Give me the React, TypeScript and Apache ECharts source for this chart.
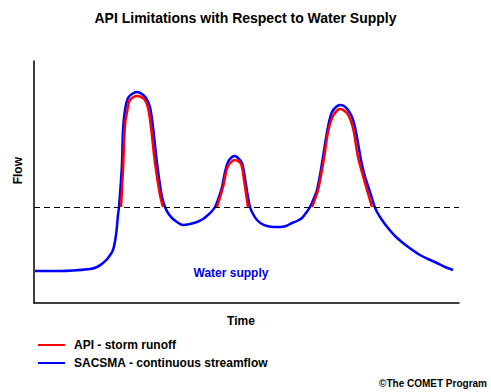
import React, { useEffect, useRef } from "react";
import * as echarts from "echarts";

// Time (0..425) vs Flow (0..242)
const sacsma: [number, number][] = [
  [1, 32], [26, 32], [56, 34], [63, 36], [69, 40], [74, 45], [79, 53], [82, 68], [84, 88], [85, 96],
  [87, 123], [88, 140], [89, 173], [91, 193], [94, 205], [98, 209], [103, 211], [108, 209], [112, 205],
  [116, 196], [119, 176], [121, 158], [123, 140], [126, 118], [128, 106], [131, 96], [134, 90], [138, 85],
  [143, 81], [149, 78], [156, 79], [163, 81], [169, 84], [174, 88], [178, 92], [181, 96], [185, 106],
  [188, 116], [191, 131], [194, 141], [198, 146], [201, 147], [204, 145], [208, 140], [210, 131],
  [212, 118], [214, 106], [216, 96], [219, 89], [223, 83], [228, 79], [233, 77], [240, 76], [246, 76],
  [252, 77], [258, 80], [263, 82], [268, 85], [272, 90], [276, 96], [280, 105], [283, 113], [286, 128],
  [289, 146], [292, 165], [295, 181], [298, 191], [302, 196], [306, 198], [310, 197], [314, 193],
  [318, 186], [321, 176], [324, 160], [327, 143], [330, 130], [333, 120], [337, 108], [340, 98],
  [343, 91], [348, 83], [354, 75], [361, 67], [369, 60], [377, 54], [386, 48], [394, 44], [403, 40],
  [411, 36], [419, 33],
];
const apiPeak1: [number, number][] = [
  [87, 96], [89, 133], [91, 178], [93, 191], [96, 203], [103, 207], [110, 204], [114, 195], [117, 176],
  [121, 140], [126, 108], [129, 96],
];
const apiPeak2: [number, number][] = [
  [183, 96], [189, 116], [194, 137], [201, 143], [207, 139], [210, 123], [214, 96],
];
const apiPeak3: [number, number][] = [
  [278, 96], [284, 113], [290, 145], [294, 171], [299, 187], [306, 194], [313, 190], [319, 175],
  [324, 146], [331, 120], [338, 96],
];
const waterSupplyLevel = 96;

const seriesNames = ["API - storm runoff", "SACSMA - continuous streamflow"];

export default function App() {
  const ref = useRef<HTMLDivElement>(null);
  useEffect(() => {
    if (!ref.current) return;
    const chart = echarts.init(ref.current, null, { renderer: "svg" });
    const font = "'Liberation Sans', Arial, sans-serif";
    const apiData: (number[] | string)[] = [...apiPeak1, "-", ...apiPeak2, "-", ...apiPeak3] as any;
    chart.setOption({
      animation: false,
      backgroundColor: "#fff",
      title: {
        text: "API Limitations with Respect to Water Supply",
        left: "center",
        top: 6,
        textStyle: { fontSize: 14, fontWeight: "bold", color: "#000", fontFamily: font },
      },
      grid: { left: 34, right: 32, top: 61, bottom: 89 },
      xAxis: {
        type: "value", min: 0, max: 425,
        axisLine: { lineStyle: { color: "#000", width: 1.5 } },
        axisTick: { show: false }, axisLabel: { show: false }, splitLine: { show: false },
      },
      yAxis: {
        type: "value", min: 0, max: 242,
        axisLine: { show: true, lineStyle: { color: "#000", width: 1.5 } },
        axisTick: { show: false }, axisLabel: { show: false }, splitLine: { show: false },
      },
      legend: {
        orient: "vertical", left: 38, top: 339, itemWidth: 27, itemHeight: 2, icon: "rect", itemGap: 6,
        padding: 0,
        data: seriesNames,
        textStyle: { fontSize: 12, fontWeight: "bold", color: "#000", fontFamily: font, padding: [0, 0, 0, 4] },
      },
      series: [
        {
          name: seriesNames[1], type: "line", data: sacsma, smooth: 0.3, showSymbol: false,
          lineStyle: { color: "#0000ff", width: 2.5 }, itemStyle: { color: "#0000ff" }, z: 2,
          markLine: {
            silent: true, symbol: "none", label: { show: false },
            lineStyle: { color: "#000", type: [6, 4], width: 1 },
            data: [{ yAxis: waterSupplyLevel }],
          },
        },
        {
          name: seriesNames[0], type: "line", data: apiData, smooth: 0.3, showSymbol: false,
          connectNulls: false,
          lineStyle: { color: "#ff0000", width: 2.5 }, itemStyle: { color: "#ff0000" }, z: 3,
        },
      ],
      graphic: [
        { type: "text", left: 12, top: 157, rotation: Math.PI / 2,
          style: { text: "Flow", fontSize: 12, fontWeight: "bold", fill: "#000", fontFamily: font } },
        { type: "text", x: 241, y: 321,
          style: { text: "Time", fontSize: 12, fontWeight: "bold", fill: "#000", fontFamily: font, align: "center", verticalAlign: "middle" } },
        { type: "text", x: 231, y: 273,
          style: { text: "Water supply", fontSize: 12, fontWeight: "bold", fill: "#0000ee", fontFamily: font, align: "center", verticalAlign: "middle" } },
        { type: "text", x: 487, y: 383,
          style: { text: "©The COMET Program", fontSize: 10, fontWeight: "bold", fill: "#000", fontFamily: font, align: "right", verticalAlign: "middle" } },
      ],
    });
    return () => chart.dispose();
  }, []);
  return <div ref={ref} style={{ position: "absolute", left: 0, top: 0, width: 491, height: 392 }} />;
}
